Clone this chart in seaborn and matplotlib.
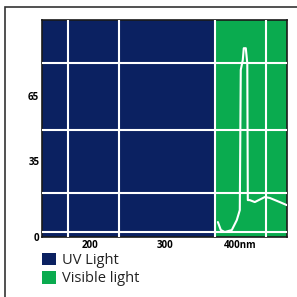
import numpy as np
import pandas as pd
import matplotlib.pyplot as plt
import seaborn as sns
from matplotlib.patches import Patch, Rectangle

# wavelength (nm) and relative intensity (%) of the lamp spectrum
wavelength = [370.7, 374.7, 380.0, 389.3, 396.0, 400.0, 401.3, 404.0, 405.3,
              408.0, 410.0, 410.7, 413.3, 420.0, 433.3, 440.0, 453.3, 462.7]
intensity = [6.9, 3.2, 2.3, 3.2, 7.8, 12.4, 77.0, 81.6, 87.0,
             87.0, 80.0, 17.0, 17.0, 16.1, 18.4, 18.0, 16.1, 14.7]

uv_range = (136, 367)
visible_range = (367, 463)
band_labels = ["UV Light", "Visible light"]
band_colors = ["#0b2161", "#0aab4f"]

x_ticks = [200, 300, 400]
x_tick_labels = ["200", "300", "400nm"]
y_ticks = [0, 35, 65]
y_tick_labels = ["0", "35", "65"]
x_grid = [171, 239, 300, 367, 435]
y_grid = [2.3, 20.3, 49.3, 80.2]

df = pd.DataFrame({"wavelength": wavelength, "intensity": intensity})

sns.set_theme(style="white")
plt.rcParams["font.family"] = ["Open Sans", "DejaVu Sans"]

fig = plt.figure(figsize=(2.97, 2.97), dpi=100)
ax = fig.add_axes([42 / 297, 60 / 297, 245 / 297, 217 / 297])

ax.axvspan(*uv_range, color=band_colors[0], lw=0, zorder=0)
ax.axvspan(*visible_range, color=band_colors[1], lw=0, zorder=0)

sns.lineplot(data=df, x="wavelength", y="intensity", color="white",
             linewidth=1.5, ax=ax, zorder=3)

ax.set_xlim(uv_range[0], visible_range[1])
ax.set_ylim(0, 100)
ax.set_xticks(x_ticks)
ax.set_xticklabels(x_tick_labels, fontweight="bold", fontsize=7)
ax.set_yticks(y_ticks)
ax.set_yticklabels(y_tick_labels, fontweight="bold", fontsize=7)
ax.set_xticks(x_grid, minor=True)
ax.set_yticks(y_grid, minor=True)
ax.grid(which="minor", color="white", linewidth=1.5, zorder=2)
ax.grid(which="major", visible=False)
ax.tick_params(which="both", length=0, pad=2, colors="black")
ax.set_axisbelow(False)
ax.set_xlabel("")
ax.set_ylabel("")
for side in ax.spines.values():
    side.set_color("#1a1a1a")
    side.set_linewidth(1.2)

handles = [Patch(facecolor=c, edgecolor="none") for c in band_colors]
fig.legend(handles, band_labels, loc="upper left",
           bbox_to_anchor=(36 / 297, 1 - 247 / 297), frameon=False,
           fontsize=10.5, handlelength=0.95, handleheight=0.95,
           handletextpad=0.4, labelspacing=0.2, borderaxespad=0,
           labelcolor="#222222")

fig.add_artist(Rectangle((5 / 297, -0.1), 1.2, 1.1 - 7 / 297,
                         transform=fig.transFigure, fill=False,
                         edgecolor="#333333", linewidth=1.2))

fig.savefig("out.png", dpi=100)
